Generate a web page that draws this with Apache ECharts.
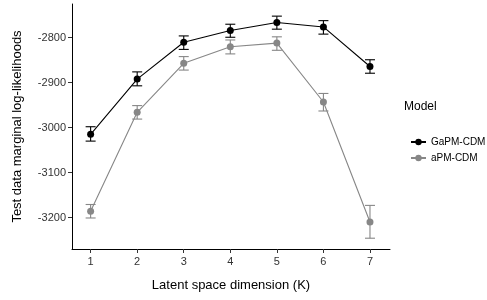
<!DOCTYPE html>
<html><head><meta charset="utf-8">
<script src="https://cdn.jsdelivr.net/npm/echarts@6/dist/echarts.min.js"></script>
<style>html,body{margin:0;padding:0;background:#fff}#c{width:487px;height:300px}</style>
</head><body><div id="c"></div>
<script>
const dims = [1, 2, 3, 4, 5, 6, 7];
const gapmMean  = [-3015, -2892, -2810, -2784, -2766, -2776, -2864];
const gapmLower = [-3030, -2907, -2826, -2799, -2781, -2792, -2879];
const gapmUpper = [-2998, -2876, -2796, -2770, -2752, -2762, -2849];
const apmMean   = [-3186, -2966, -2857, -2820, -2812, -2943, -3210];
const apmLower  = [-3201, -2981, -2872, -2836, -2828, -2963, -3246];
const apmUpper  = [-3171, -2951, -2842, -2805, -2798, -2924, -3173];
const yTicks = [-3200, -3100, -3000, -2900, -2800];
const seriesNames = ['GaPM-CDM', 'aPM-CDM'];
const colors = ['#000000', '#878787'];

function errData(lo, hi) { return dims.map((d, i) => [d, lo[i], hi[i]]); }
function errSeries(name, lo, hi, color) {
  return {
    type: 'custom', name: name + ' (error)', z: 1,
    itemStyle: { color: color },
    data: errData(lo, hi),
    encode: { x: 0, y: [1, 2] },
    renderItem: function (params, api) {
      const x = api.value(0);
      const p1 = api.coord([x, api.value(1)]);
      const p2 = api.coord([x, api.value(2)]);
      const w = 5;
      const st = { stroke: color, lineWidth: 1.1 };
      return { type: 'group', children: [
        { type: 'line', shape: { x1: p1[0], y1: p1[1], x2: p2[0], y2: p2[1] }, style: st },
        { type: 'line', shape: { x1: p1[0]-w, y1: p1[1], x2: p1[0]+w, y2: p1[1] }, style: st },
        { type: 'line', shape: { x1: p2[0]-w, y1: p2[1], x2: p2[0]+w, y2: p2[1] }, style: st }
      ]};
    }
  };
}
function lineSeries(name, vals, color) {
  return {
    type: 'line', name: name, z: 2,
    data: dims.map((d, i) => [d, vals[i]]),
    symbol: 'circle', symbolSize: 7,
    itemStyle: { color: color },
    lineStyle: { color: color, width: 1.1 }
  };
}
const chart = echarts.init(document.getElementById('c'), null, { renderer: 'canvas' });
chart.setOption({
  animation: false,
  backgroundColor: '#fff',
  grid: { left: 72, right: 97, top: 4, bottom: 51 },
  xAxis: {
    type: 'value', min: 0.6, max: 7.43,
    name: 'Latent space dimension (K)', nameLocation: 'middle', nameGap: 30,
    nameTextStyle: { color: '#000', fontSize: 13, fontFamily: 'Liberation Sans' },
    axisLine: { lineStyle: { color: '#000', width: 1 } },
    axisTick: { show: true, customValues: dims, length: 4, lineStyle: { color: '#333' } },
    axisLabel: { customValues: dims, color: '#333', fontSize: 11, fontFamily: 'Liberation Sans', margin: 7 },
    splitLine: { show: false }
  },
  yAxis: {
    type: 'value', min: -3270, max: -2725,
    name: 'Test data marginal log-likelihoods', nameLocation: 'middle', nameGap: 48,
    nameTextStyle: { color: '#000', fontSize: 13, fontFamily: 'Liberation Sans' },
    axisLine: { show: true, lineStyle: { color: '#000', width: 1 } },
    axisTick: { show: true, customValues: yTicks, length: 4, lineStyle: { color: '#333' } },
    axisLabel: { customValues: yTicks, formatter: v => String(v), color: '#333', fontSize: 11, fontFamily: 'Liberation Sans', margin: 6 },
    splitLine: { show: false }
  },
  legend: {
    orient: 'vertical', left: 405, top: 132, itemGap: 6,
    itemWidth: 15, itemHeight: 8,
    data: seriesNames,
    textStyle: { color: '#000', fontSize: 10, fontFamily: 'Liberation Sans' }
  },
  graphic: [{
    type: 'text', left: 404, top: 101,
    style: { text: 'Model', fill: '#000', fontSize: 12, fontFamily: 'Liberation Sans' }
  }],
  series: [
    lineSeries(seriesNames[0], gapmMean, colors[0]),
    lineSeries(seriesNames[1], apmMean, colors[1]),
    errSeries(seriesNames[0], gapmLower, gapmUpper, colors[0]),
    errSeries(seriesNames[1], apmLower, apmUpper, colors[1])
  ]
});
</script></body></html>
